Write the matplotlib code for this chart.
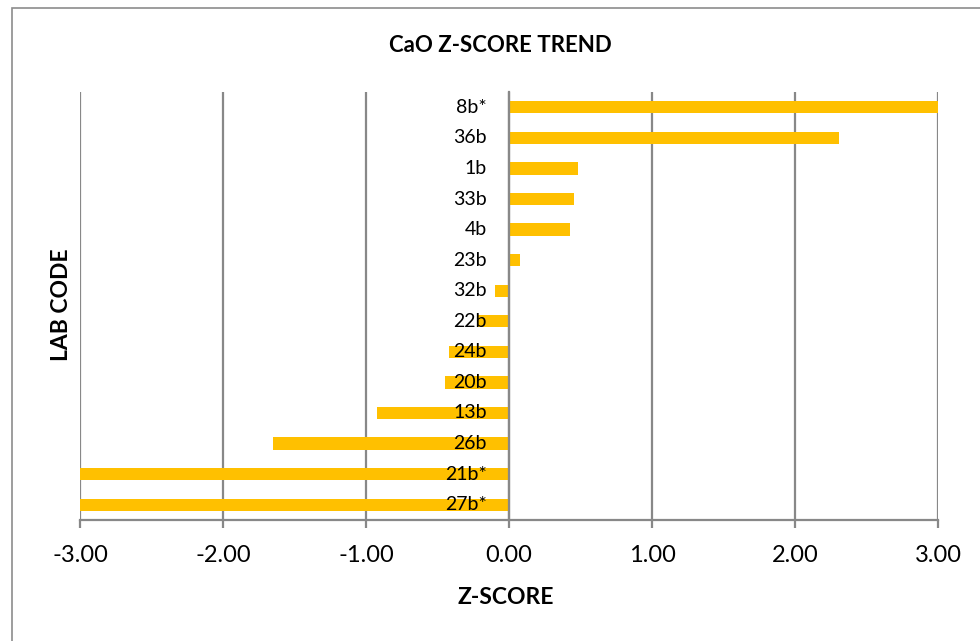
"""CaO z-score trend per lab code, horizontal bar chart in the Excel style."""
import matplotlib
matplotlib.use("Agg")
import matplotlib.pyplot as plt
from matplotlib.patches import Rectangle

plt.rcParams["font.family"] = ["Lato", "DejaVu Sans"]

# top to bottom as drawn
lab_codes = ["8b*", "36b", "1b", "33b", "4b", "23b", "32b", "22b",
             "24b", "20b", "13b", "26b", "21b*", "27b*"]
z_scores = [3.00, 2.31, 0.48, 0.455, 0.43, 0.075, -0.10, -0.22,
            -0.42, -0.45, -0.92, -1.65, -3.00, -3.00]
x_ticks = [-3, -2, -1, 0, 1, 2, 3]
x_ticklabels = ["-3.00", "-2.00", "-1.00", "0.00", "1.00", "2.00", "3.00"]

BAR = "#FFC000"
GREY = "#888888"

fig = plt.figure(figsize=(9.8, 6.41), dpi=100)
ax = fig.add_axes([80 / 980, 1 - 520 / 641, 858 / 980, 428 / 641])

# chart frame (cropped on right and bottom like the original)
fig.patches.append(Rectangle((12 / 980, -0.05), 1.1, 1 - 8 / 641 + 0.05,
                             transform=fig.transFigure, fill=False,
                             edgecolor="#8c8c8c", linewidth=1.2))

ypos = list(range(len(lab_codes)))
ax.barh(ypos, z_scores, height=0.4, color=BAR, zorder=2)

ax.set_xlim(-3, 3)
ax.set_ylim(len(lab_codes) - 0.5, -0.5)
ax.set_xticks(x_ticks)
ax.set_xticklabels(x_ticklabels, fontsize=17)
ax.set_yticks([])
ax.grid(axis="x", color=GREY, linewidth=1.6, zorder=0)
ax.set_axisbelow(True)

for side in ("top", "right"):
    ax.spines[side].set_visible(False)
ax.spines["left"].set_position(("data", 0))
ax.spines["left"].set_color(GREY)
ax.spines["left"].set_linewidth(1.6)
ax.spines["left"].set_zorder(3)
ax.spines["bottom"].set_color(GREY)
ax.spines["bottom"].set_linewidth(1.6)
ax.tick_params(axis="x", direction="out", length=6, width=1.6, color=GREY,
               pad=12)

for y, lab in zip(ypos, lab_codes):
    ax.annotate(lab, xy=(0, y), xytext=(-16, 0), textcoords="offset points",
                ha="right", va="center", fontsize=14, zorder=4)

fig.text(500 / 980, 1 - 46 / 641, "CaO Z-SCORE TREND", ha="center",
         va="center", fontsize=16, fontweight="bold")
fig.text(506 / 980, 1 - 597 / 641, "Z-SCORE", ha="center", va="center",
         fontsize=16.5, fontweight="bold")
fig.text(62 / 980, 1 - 305 / 641, "LAB CODE", ha="center", va="center",
         rotation=90, fontsize=16.5, fontweight="bold")

fig.savefig("out.png", dpi=100)
